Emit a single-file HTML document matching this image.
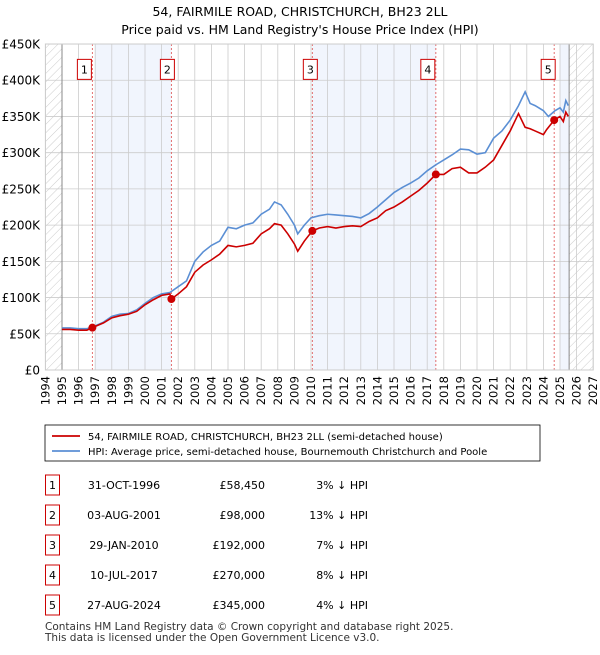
<!DOCTYPE html>
<html><head><meta charset="utf-8"><style>
body{margin:0;background:#fff;font-family:"Liberation Sans","DejaVu Sans",sans-serif;}
svg text{font-family:"DejaVu Sans","Liberation Sans",sans-serif;}
</style></head><body>
<svg id="c" width="600" height="650" viewBox="0 0 600 650" xmlns="http://www.w3.org/2000/svg">
<defs><pattern id="hatch" width="6" height="6" patternUnits="userSpaceOnUse" patternTransform="rotate(45)"><line x1="0" y1="0" x2="0" y2="6" stroke="#ccc" stroke-width="1"/></pattern></defs>
<text x="300" y="16" text-anchor="middle" font-size="12.5">54, FAIRMILE ROAD, CHRISTCHURCH, BH23 2LL</text>
<text x="300" y="34" text-anchor="middle" font-size="12.5">Price paid vs. HM Land Registry's House Price Index (HPI)</text>
<g id="plot"></g>
<g>
<rect x="45" y="425" width="495" height="36" fill="#fff" stroke="#000" stroke-width="0.8"/>
<line x1="52" y1="436" x2="80" y2="436" stroke="#cc0000" stroke-width="1.8"/>
<text x="88" y="440" font-size="10">54, FAIRMILE ROAD, CHRISTCHURCH, BH23 2LL (semi-detached house)</text>
<line x1="52" y1="451" x2="80" y2="451" stroke="#5b8fd4" stroke-width="1.8"/>
<text x="88" y="455" font-size="10">HPI: Average price, semi-detached house, Bournemouth Christchurch and Poole</text>
</g>
<g id="table" font-size="11"></g>
<text x="45" y="630" font-size="10.5" fill="#333">Contains HM Land Registry data © Crown copyright and database right 2025.</text>
<text x="45" y="641" font-size="10.5" fill="#333">This data is licensed under the Open Government Licence v3.0.</text>
</svg>
<script>
const hpiYears=[1995,1995.5,1996,1996.5,1997,1997.5,1998,1998.5,1999,1999.5,2000,2000.5,2001,2001.5,2002,2002.5,2003,2003.5,2004,2004.5,2005,2005.5,2006,2006.5,2007,2007.5,2007.8,2008.2,2008.6,2009,2009.2,2009.6,2010,2010.5,2011,2011.5,2012,2012.5,2013,2013.5,2014,2014.5,2015,2015.5,2016,2016.5,2017,2017.5,2018,2018.5,2019,2019.5,2020,2020.5,2021,2021.5,2022,2022.5,2022.9,2023.2,2023.5,2024,2024.3,2024.7,2025,2025.2,2025.35,2025.5];
const hpiValues=[58,58,57,57,61,66,74,77,78,83,92,100,105,107,115,123,150,163,172,178,197,195,200,203,215,222,232,228,215,200,188,200,210,213,215,214,213,212,210,216,225,235,245,252,258,265,275,283,290,297,305,304,298,300,320,330,345,365,384,368,365,358,350,358,362,356,372,365];
const priceYears=[1995,1995.5,1996,1996.5,1996.83,1997.5,1998,1998.5,1999,1999.5,2000,2000.5,2001,2001.5,2001.59,2002,2002.5,2003,2003.5,2004,2004.5,2005,2005.5,2006,2006.5,2007,2007.5,2007.8,2008.2,2008.6,2009,2009.2,2009.6,2010.08,2010.5,2011,2011.5,2012,2012.5,2013,2013.5,2014,2014.5,2015,2015.5,2016,2016.5,2017,2017.52,2018,2018.5,2019,2019.5,2020,2020.5,2021,2021.5,2022,2022.5,2022.9,2023.2,2023.5,2024,2024.2,2024.65,2025,2025.2,2025.35,2025.5];
const priceValues=[56,56,55,55,58.45,65,72,75,77,81,90,97,103,105,98,105,115,135,145,152,160,172,170,172,175,188,195,202,200,188,174,164,178,192,196,198,196,198,199,198,205,210,220,225,232,240,248,258,270,270,278,280,272,272,280,290,310,330,354,335,333,330,325,332,345,350,343,356,350];
const saleYears=[1996.83,2001.59,2010.08,2017.52,2024.65];
const saleValues=[58.45,98,192,270,345];
const saleDates=["31-OCT-1996","03-AUG-2001","29-JAN-2010","10-JUL-2017","27-AUG-2024"];
const salePrices=["£58,450","£98,000","£192,000","£270,000","£345,000"];
const salePcts=["3% ↓ HPI","13% ↓ HPI","7% ↓ HPI","8% ↓ HPI","4% ↓ HPI"];
const yTicks=[0,50,100,150,200,250,300,350,400,450];
const xTicks=[1994,1995,1996,1997,1998,1999,2000,2001,2002,2003,2004,2005,2006,2007,2008,2009,2010,2011,2012,2013,2014,2015,2016,2017,2018,2019,2020,2021,2022,2023,2024,2025,2026,2027];

const NS="http://www.w3.org/2000/svg";
const X0=45.4,XW=16.6,Y0=370,YK=0.7244;
const xs=y=>X0+(y-1994)*XW, ys=v=>Y0-v*YK;
const plot=document.getElementById('plot');
function mk(tag,attrs,parent){const e=document.createElementNS(NS,tag);for(const k in attrs)e.setAttribute(k,attrs[k]);(parent||plot).appendChild(e);return e;}
const PT=ys(450), PB=ys(0), L=xs(1994), R=xs(2027);
const bands=[[1997.0,saleYears[1]],[saleYears[2],saleYears[3]],[2025.0,2025.55]];
bands.forEach(b=>{const r=mk('rect',{x:xs(b[0]),y:PT,width:xs(b[1])-xs(b[0]),height:PB-PT,fill:'#eef3fc',opacity:0.8});

});
const h1=mk('rect',{x:L,y:PT,width:xs(1995)-L,height:PB-PT,fill:'url(#hatch)'});


const h2=mk('rect',{x:xs(2025.55),y:PT,width:R-xs(2025.55),height:PB-PT,fill:'url(#hatch)'});


xTicks.forEach(t=>{const l=mk('line',{x1:xs(t),x2:xs(t),y1:PT,y2:PB,stroke:'#ccc','stroke-width':0.8});


const tx=mk('text',{x:0,y:0,'font-size':11.5,'text-anchor':'end',transform:`translate(${xs(t)+4},${PB+6}) rotate(-90)`});tx.textContent=t;

});
yTicks.forEach(t=>{const l=mk('line',{x1:L,x2:R,y1:ys(t),y2:ys(t),stroke:'#ccc','stroke-width':0.8});


const tx=mk('text',{x:40,y:ys(t)+4.5,'font-size':12,'text-anchor':'end'});tx.textContent=t===0?'£0':'£'+t+'K';

});
[1995,2025.55].forEach(t=>{const l=mk('line',{x1:xs(t),x2:xs(t),y1:PT,y2:PB,stroke:'#888','stroke-width':1});

});
saleYears.forEach(s=>{const l=mk('line',{x1:xs(s),x2:xs(s),y1:PT,y2:PB,stroke:'#e06060','stroke-width':0.9,'stroke-dasharray':'2,2'});

});
const hp=mk('polyline',{points:hpiYears.map((y,i)=>xs(y)+','+ys(hpiValues[i])).join(' '),fill:'none',stroke:'#5b8fd4','stroke-width':1.6});


const pp=mk('polyline',{points:priceYears.map((y,i)=>xs(y)+','+ys(priceValues[i])).join(' '),fill:'none',stroke:'#cc0000','stroke-width':1.6});


saleYears.forEach((s,i)=>{const c=mk('circle',{cx:xs(s),cy:ys(saleValues[i]),r:4,fill:'#cc0000'});


const bx=xs(s)-(i===1?4:i===2?2:i===4?6:8), by=ys(415);
const r=mk('rect',{x:bx-7,y:by-10,width:14,height:20,fill:'#fff',stroke:'#cc0000','stroke-width':1});


const t=mk('text',{x:bx,y:by+4,'font-size':11,'text-anchor':'middle'});t.textContent=i+1;

});
const ax=mk('rect',{x:L,y:PT,width:R-L,height:PB-PT,fill:'none',stroke:'#ccc','stroke-width':1});


const tb=document.getElementById('table');
saleDates.forEach((d,i)=>{const y=485+i*30;
const r=mk('rect',{x:45.5,y:y-10,width:14,height:20,fill:'#fff',stroke:'#cc0000','stroke-width':1},tb);


const n=mk('text',{x:52.5,y:y+4,'text-anchor':'middle'},tb);n.textContent=i+1;


const a=mk('text',{x:124,y:y+4,'text-anchor':'middle'},tb);a.textContent=d;


const b=mk('text',{x:265,y:y+4,'text-anchor':'end'},tb);b.textContent=salePrices[i];


const c=mk('text',{x:368,y:y+4,'text-anchor':'end'},tb);c.textContent=salePcts[i];

});
</script>
</body></html>
